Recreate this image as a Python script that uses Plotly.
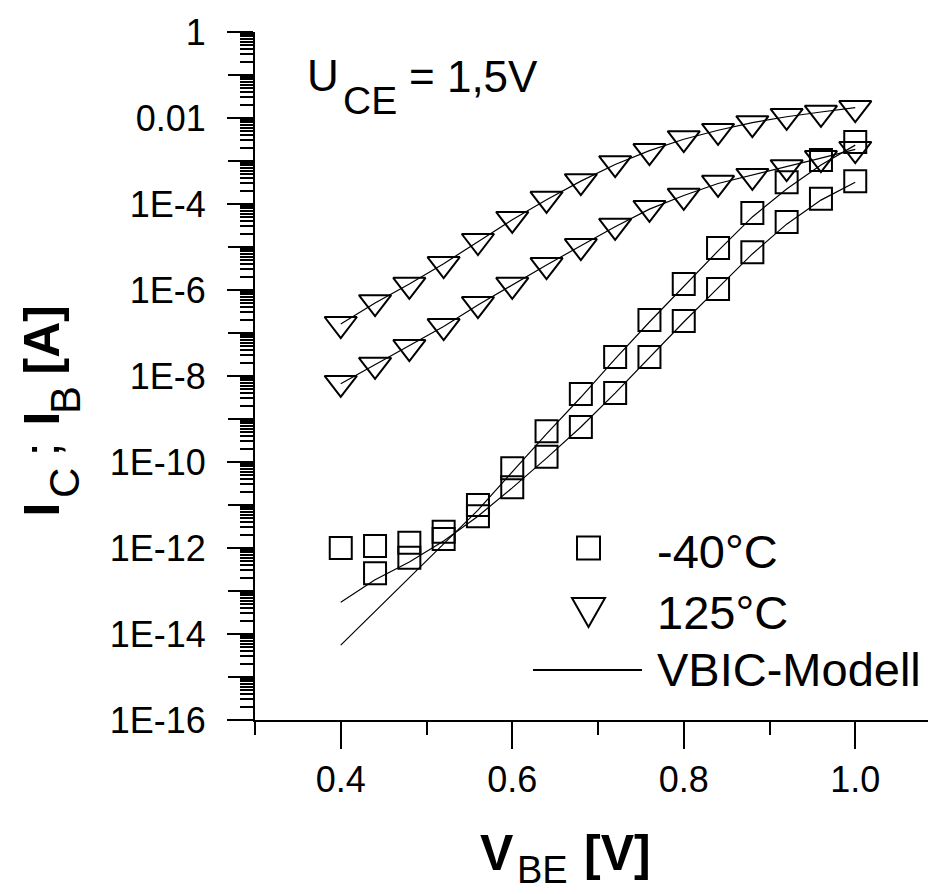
import plotly.graph_objects as go

# ---------------- data ----------------
vbe = [0.40, 0.44, 0.48, 0.52, 0.56, 0.60, 0.64, 0.68, 0.72, 0.76, 0.80, 0.84, 0.88, 0.92, 0.96, 1.00]

# -40 °C measurements (squares)
ic_m40 = [1.0e-12, 1.12e-12, 1.32e-12, 2.4e-12, 1.0e-11, 7.2e-11, 5.2e-10, 3.8e-9, 2.75e-8, 2.0e-7,
          1.38e-6, 9.5e-6, 6.2e-5, 3.2e-4, 1.05e-3, 2.75e-3]
ib_m40 = [None, 2.6e-13, 5.9e-13, 1.62e-12, 5.5e-12, 2.6e-11, 1.32e-10, 6.5e-10, 4.0e-9, 2.75e-8,
          1.9e-7, 1.05e-6, 7.6e-6, 3.8e-5, 1.32e-4, 3.4e-4]
# -40 °C VBIC model
ic_m40_model = [5.5e-15, 3.4e-14, 2.1e-13, 1.26e-12, 7.6e-12, 5.9e-11, 4.5e-10, 3.2e-9, 2.5e-8, 1.8e-7,
                1.23e-6, 8.1e-6, 5.0e-5, 2.24e-4, 8.1e-4, 2.34e-3]
ib_m40_model = [5.5e-14, 1.82e-13, 4.7e-13, 1.45e-12, 5.5e-12, 2.5e-11, 1.23e-10, 6.5e-10, 4.0e-9, 2.75e-8,
                1.8e-7, 1.12e-6, 6.9e-6, 3.4e-5, 1.23e-4, 3.2e-4]

# 125 °C measurements (triangles)
ic_125 = [1.62e-7, 5.2e-7, 1.32e-6, 4.0e-6, 1.38e-5, 4.5e-5, 1.32e-4, 3.4e-4, 8.9e-4, 1.7e-3,
          3.4e-3, 5.0e-3, 7.6e-3, 1.12e-2, 1.32e-2, 1.7e-2]
ib_125 = [6.9e-9, 1.82e-8, 4.7e-8, 1.45e-7, 4.7e-7, 1.32e-6, 3.8e-6, 1.05e-5, 3.1e-5, 8.1e-5,
          1.55e-4, 3.1e-4, 4.5e-4, 7.2e-4, 1.17e-3, 1.9e-3]
# 125 °C VBIC model
ic_125_model = [1.62e-7, 5.0e-7, 1.38e-6, 4.1e-6, 1.32e-5, 4.3e-5, 1.26e-4, 3.4e-4, 8.3e-4, 1.74e-3,
                3.2e-3, 5.2e-3, 7.8e-3, 1.07e-2, 1.38e-2, 1.74e-2]
ib_125_model = [6.6e-9, 1.82e-8, 4.9e-8, 1.41e-7, 4.5e-7, 1.32e-6, 3.8e-6, 1.07e-5, 2.95e-5, 7.6e-5,
                1.58e-4, 3.0e-4, 4.7e-4, 7.2e-4, 1.17e-3, 1.86e-3]

x_tickvals = [0.4, 0.6, 0.8, 1.0]
x_ticktext = ["0.4", "0.6", "0.8", "1.0"]
# labelled decades (every second one)
y_tickvals = [1e0, 1e-2, 1e-4, 1e-6, 1e-8, 1e-10, 1e-12, 1e-14, 1e-16]
y_ticktext = ["1", "0.01", "1E-4", "1E-6", "1E-8", "1E-10", "1E-12", "1E-14", "1E-16"]
# unlabelled decades (long tick only)
y_tickvals_unlabelled = [1e-1, 1e-3, 1e-5, 1e-7, 1e-9, 1e-11, 1e-13, 1e-15]

legend_labels = ["-40°C", "125°C", "VBIC-Modell"]

# ---------------- figure ----------------
W, H = 928, 894
ML, MR, MT, MB = 255, 0, 32, 174
PW, PH = W - ML - MR, H - MT - MB


def px(xp):
    return (xp - ML) / PW


def py(yp):
    return (H - MB - yp) / PH


FONT = "Liberation Sans, Arial, sans-serif"
fig = go.Figure()

line_style = dict(color="black", width=1.2)
models = (ic_m40_model, ib_m40_model, ic_125_model, ib_125_model)
for i, model in enumerate(models):
    fig.add_trace(go.Scatter(x=vbe, y=model, mode="lines", line=line_style,
                             showlegend=False, hoverinfo="skip",
                             yaxis="y2" if i == 0 else "y"))

sq = dict(symbol="square-open", size=22, color="black", line=dict(width=2, color="black"))
tri = dict(symbol="triangle-down-open", size=28, color="black", line=dict(width=2, color="black"))
for ser in (ic_m40, ib_m40):
    fig.add_trace(go.Scatter(x=vbe, y=ser, mode="markers", marker=sq, showlegend=False))
for ser in (ic_125, ib_125):
    fig.add_trace(go.Scatter(x=vbe, y=ser, mode="markers", marker=tri, showlegend=False))

# custom legend keys (paper coordinates)
shapes = [
    dict(type="rect", xref="paper", yref="paper",
         x0=px(577), x1=px(600), y0=py(559.5), y1=py(536.5),
         line=dict(color="black", width=2)),
    dict(type="path", xref="paper", yref="paper",
         path=f"M{px(572)},{py(598)} L{px(605)},{py(598)} L{px(588.5)},{py(627)} Z",
         line=dict(color="black", width=2)),
    dict(type="line", xref="paper", yref="paper",
         x0=px(533), x1=px(642), y0=py(670), y1=py(670),
         line=dict(color="black", width=2)),
]

annotations = []


def note(text, xp, yp, size, bold=False, xanchor="left", angle=0):
    if bold:
        text = "<b>" + text + "</b>"
    annotations.append(dict(text=text, xref="paper", yref="paper", x=px(xp), y=py(yp),
                            xanchor=xanchor, yanchor="middle", textangle=angle,
                            showarrow=False,
                            font=dict(family=FONT, size=size, color="black")))


# legend texts
for lab, yc in zip(legend_labels, [551, 612, 669]):
    note(lab, 655, yc, 47)

# U_CE = 1,5V
note("U", 305, 75, 44)
note("CE", 341, 101, 39)
note("= 1,5V", 407, 76, 44)

# x-axis title V_BE [V]
note("V", 478, 853, 50, bold=True)
note("BE", 515, 870, 38)
note("[V]", 582, 853, 50, bold=True)

# y-axis title I_C ; I_B [A] (rotated)
note("I", 41.5, 510, 50, bold=True, xanchor="center", angle=-90)
note("C", 65, 483, 42, xanchor="center", angle=-90)
note(";", 41.5, 450, 50, xanchor="center", angle=-90)
note("I", 41.5, 419, 50, bold=True, xanchor="center", angle=-90)
note("B", 65, 400, 42, xanchor="center", angle=-90)
note("[A]", 41.5, 340, 50, bold=True, xanchor="center", angle=-90)

fig.update_layout(
    width=W, height=H,
    margin=dict(l=ML, r=MR, t=MT, b=MB, pad=0),
    paper_bgcolor="white", plot_bgcolor="white",
    showlegend=False,
    shapes=shapes,
    annotations=annotations,
    font=dict(family=FONT, color="black"),
)

fig.update_xaxes(
    range=[0.3, 0.3 + PW / 857.5],
    showline=True, linecolor="black", linewidth=2,
    showgrid=False, zeroline=False,
    tickmode="array", tickvals=x_tickvals, ticktext=x_ticktext,
    ticks="outside", ticklen=27, tickwidth=2, tickcolor="black",
    tickfont=dict(family=FONT, size=36, color="black"),
    minor=dict(tickmode="linear", tick0=0.3, dtick=0.1, ticks="outside",
               ticklen=13, tickwidth=2, tickcolor="black", showgrid=False),
)

fig.update_layout(
    yaxis=dict(
        type="log", range=[-16, 0],
        showline=True, linecolor="black", linewidth=2,
        showgrid=False, zeroline=False,
        tickmode="array", tickvals=y_tickvals, ticktext=y_ticktext,
        ticks="outside", ticklen=26, tickwidth=2, tickcolor="black",
        ticklabelstandoff=14,
        tickfont=dict(family=FONT, size=36, color="black"),
        minor=dict(dtick="D1", ticks="outside", ticklen=13, tickwidth=2,
                   tickcolor="black", showgrid=False),
    ),
    yaxis2=dict(
        type="log", range=[-16, 0], overlaying="y", anchor="x", side="left",
        showline=False, showgrid=False, zeroline=False,
        tickmode="array", tickvals=y_tickvals_unlabelled,
        showticklabels=False,
        ticks="outside", ticklen=26, tickwidth=2, tickcolor="black",
    ),
)

fig.write_html("out.html")
